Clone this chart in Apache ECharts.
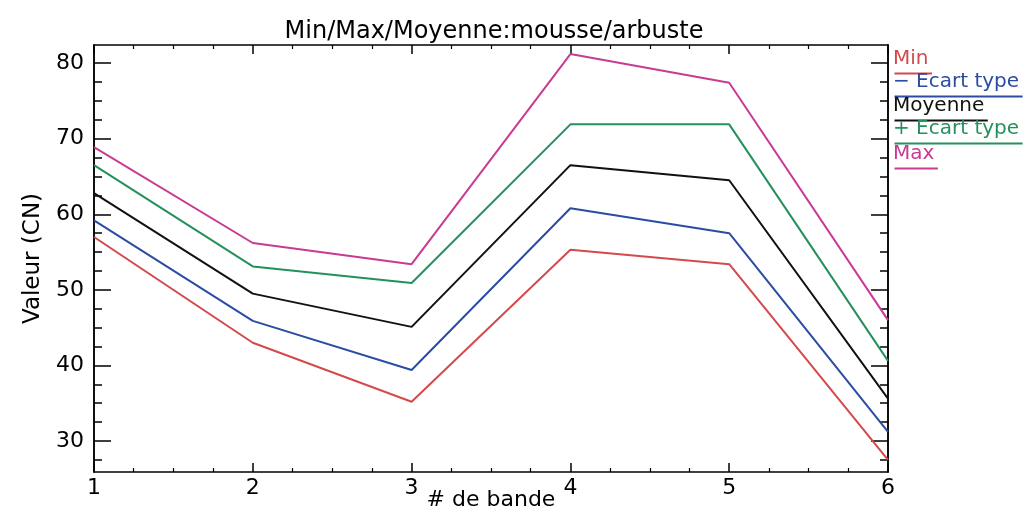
<!DOCTYPE html>
<html>
<head>
<meta charset="utf-8">
<script src="https://cdn.jsdelivr.net/npm/echarts@6/dist/echarts.min.js"></script>
<style>
  html, body { margin: 0; padding: 0; background: #ffffff; }
  #chart { width: 1026px; height: 514px; }
</style>
</head>
<body>
<div id="chart"></div>
<script>
// Band numbers on the x axis
var bands = [1, 2, 3, 4, 5, 6];

// Statistics per band (CN values)
var minValues      = [57.0, 43.0, 35.2, 55.3, 53.4, 27.5];
var minusStdValues = [59.2, 45.9, 39.4, 60.8, 57.5, 31.2];
var meanValues     = [62.8, 49.5, 45.1, 66.5, 64.5, 35.6];
var plusStdValues  = [66.5, 53.1, 50.9, 71.9, 71.9, 40.6];
var maxValues      = [68.9, 56.2, 53.4, 81.2, 77.4, 46.0];

// Axis ticks
var yMajorTicks = [30, 40, 50, 60, 70, 80];
var yMinorTicks = [27.5, 32.5, 35, 37.5, 42.5, 45, 47.5, 52.5, 55, 57.5, 62.5, 65, 67.5, 72.5, 75, 77.5];

var seriesNames  = ['Min', '\u2212 Ecart type', 'Moyenne', '+ Ecart type', 'Max'];
var seriesColors = ['#d44a4c', '#2a4ca2', '#111111', '#24915d', '#c93a92'];
var seriesValues = [minValues, minusStdValues, meanValues, plusStdValues, maxValues];

var FONT = '"DejaVu Sans", sans-serif';
var Y_MIN = 25.9, Y_MAX = 82.4;

function pairs(vals) {
  return bands.map(function (b, i) { return [b, vals[i]]; });
}

var chart = echarts.init(document.getElementById('chart'), null, { renderer: 'canvas', width: 1026, height: 514 });

var lineStyleAxis = { color: '#000', width: 1.5 };

function yAxisDef(position, ticks, len, withLabels) {
  return {
    type: 'value', position: position, min: Y_MIN, max: Y_MAX, offset: 0,
    axisLine: { show: true, onZero: false, lineStyle: lineStyleAxis },
    axisTick: { show: true, inside: true, length: len, customValues: ticks, lineStyle: { color: '#000', width: 1.5 } },
    axisLabel: withLabels
      ? { show: true, customValues: ticks, margin: 10, color: '#000', fontSize: 22, fontFamily: FONT }
      : { show: false },
    splitLine: { show: false },
    minorTick: { show: false }
  };
}

function xAxisDef(position, withLabels) {
  var a = {
    type: 'value', position: position, min: 1, max: 6, interval: 1, offset: 0,
    axisLine: { show: true, onZero: false, lineStyle: lineStyleAxis },
    axisTick: { show: true, inside: true, length: 9, lineStyle: { color: '#000', width: 1.5 } },
    minorTick: { show: true, splitNumber: 4, length: 4, lineStyle: { color: '#000', width: 1.2 } },
    axisLabel: withLabels
      ? { show: true, margin: 5, color: '#000', fontSize: 22, fontFamily: FONT }
      : { show: false },
    splitLine: { show: false }
  };
  if (withLabels) {
    a.name = '# de bande';
    a.nameLocation = 'middle';
    a.nameGap = 17;
    a.nameMoveOverlap = false;
    a.nameTextStyle = { color: '#000', fontSize: 22, fontFamily: FONT, verticalAlign: 'top' };
  }
  return a;
}

var yLeftMajor = yAxisDef('left', yMajorTicks, 17, true);
yLeftMajor.name = 'Valeur (CN)';
yLeftMajor.nameLocation = 'middle';
yLeftMajor.nameGap = 49;
yLeftMajor.nameMoveOverlap = false;
yLeftMajor.nameTextStyle = { color: '#000', fontSize: 23, fontFamily: FONT };

// Legend drawn as underlined text entries in the right margin
var legendGraphics = [];
var legendTop = [49, 72, 96, 119, 144];
var measureCtx = document.createElement('canvas').getContext('2d');
measureCtx.font = '20px ' + FONT;
seriesNames.forEach(function (name, i) {
  var w = measureCtx.measureText(name).width;
  legendGraphics.push({
    type: 'text', left: 893, top: legendTop[i],
    style: { text: name, fill: seriesColors[i], font: '20px ' + FONT }
  });
  legendGraphics.push({
    type: 'line', left: 892, top: legendTop[i] + 22,
    shape: { x1: 0, y1: 0, x2: w + 2, y2: 0 },
    style: { stroke: seriesColors[i], lineWidth: 2 }
  });
});

chart.setOption({
  backgroundColor: '#ffffff',
  animation: false,
  title: {
    text: 'Min/Max/Moyenne:mousse/arbuste',
    left: 489, top: 15, textAlign: 'center',
    textStyle: { color: '#000', fontSize: 24, fontWeight: 'normal', fontFamily: FONT }
  },
  grid: { left: 94, right: 138, top: 45, bottom: 42, containLabel: false, outerBoundsMode: 'none' },
  xAxis: [xAxisDef('bottom', true), xAxisDef('top', false)],
  yAxis: [
    yLeftMajor,
    yAxisDef('left', yMinorTicks, 8, false),
    yAxisDef('right', yMajorTicks, 17, false),
    yAxisDef('right', yMinorTicks, 8, false)
  ],
  graphic: legendGraphics,
  series: seriesNames.map(function (name, i) {
    return {
      name: name, type: 'line', xAxisIndex: 0, yAxisIndex: 0,
      data: pairs(seriesValues[i]),
      showSymbol: false, symbol: 'none',
      lineStyle: { color: seriesColors[i], width: 2 },
      itemStyle: { color: seriesColors[i] }
    };
  })
});
</script>
</body>
</html>
